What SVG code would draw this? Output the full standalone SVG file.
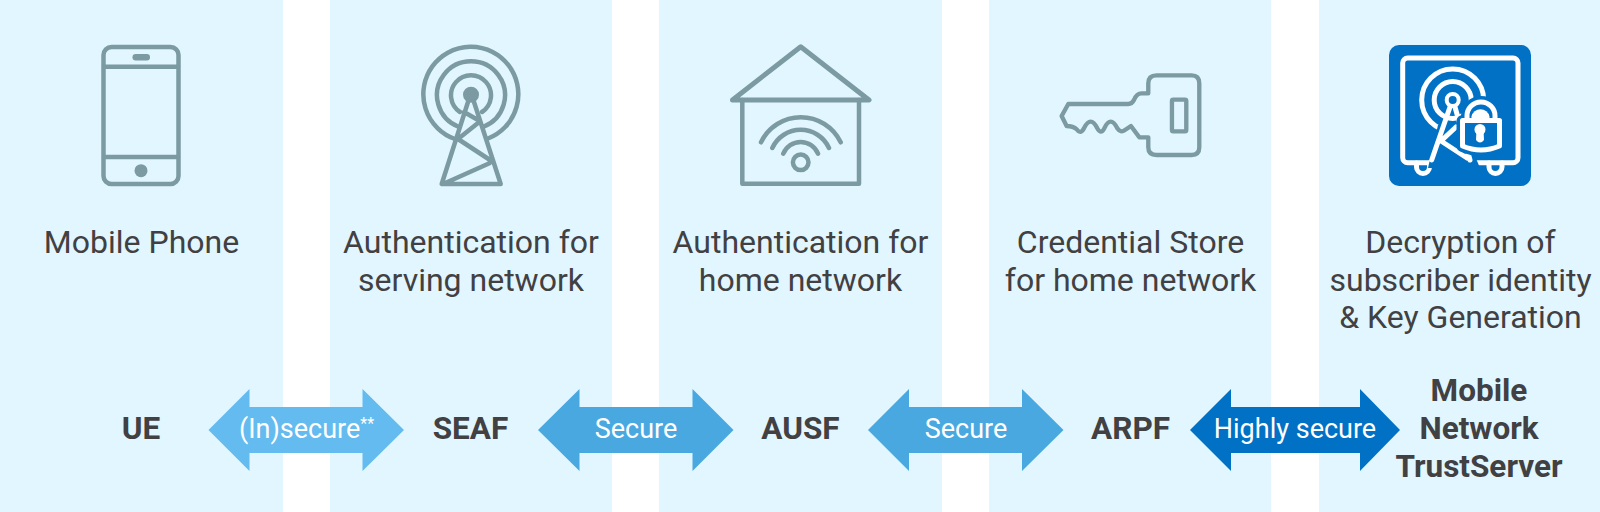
<svg xmlns="http://www.w3.org/2000/svg" width="1600" height="512" viewBox="0 0 1600 512">
<style>
.band{fill:#e1f6ff}
.ic{fill:none;stroke:#7b9aa2;stroke-width:4.500;stroke-linecap:round;stroke-linejoin:round}
.icf{fill:#7b9aa2}
.w{fill:none;stroke:#fff;stroke-width:5;stroke-linecap:round;stroke-linejoin:round}
text{font-family:Roboto,"Liberation Sans",sans-serif;text-anchor:middle}
.lab{font-size:32px;fill:#414042}
.nm{font-size:31.500px;font-weight:700;fill:#414042}
.ar{font-size:27px;fill:#fff}
.sup{font-size:16px}
</style>
<g id="bands">
<rect class="band" x="0" y="0" width="283" height="512"/>
<rect class="band" x="330" y="0" width="282" height="512"/>
<rect class="band" x="659" y="0" width="283" height="512"/>
<rect class="band" x="989" y="0" width="282" height="512"/>
<rect class="band" x="1319" y="0" width="281" height="512"/>
</g>
<g id="ue">
<rect class="ic" x="103.500" y="47" width="75" height="137" rx="8"/>
<path class="ic" d="M104 66.700H178M104 157H178"/>
<rect class="icf" x="132.500" y="54" width="17.500" height="6.500" rx="3.200"/>
<circle class="icf" cx="141" cy="170.700" r="6.500"/>
<text class="lab" x="141.500" y="252.500">Mobile Phone</text>
<text class="nm" x="141" y="439">UE</text>
</g>
<g id="seaf">
<path class="ic" d="M455 139A47.500 47.500 0 1 1 488 138.500M459 127A34 34 0 1 1 483 127M460 112A20 20 0 1 1 482 112"/>
<circle class="icf" cx="471" cy="94.700" r="8"/>
<path class="ic" d="M468 102L441.700 184H500.700L474 102M464 112L478 120M478 123L458 139L490 160M490 163L443 184"/>
<text class="lab" x="471" y="252.500">Authentication for</text>
<text class="lab" x="471" y="290.500">serving network</text>
<text class="nm" x="470.500" y="439">SEAF</text>
</g>
<g id="ausf">
<path class="ic" style="stroke-width:5" d="M732.500 100L800.700 46.700L869 100Z"/>
<path class="ic" d="M742.300 100V183.700H859V100"/>
<path class="ic" d="M761 142.300A44.200 44.200 0 0 1 840.700 142.300M772.300 148A31.200 31.200 0 0 1 829 148M783.300 153.700A18.700 18.700 0 0 1 818 153.700"/>
<circle class="ic" cx="800.700" cy="162.300" r="7.800"/>
<text class="lab" x="800.500" y="252.500">Authentication for</text>
<text class="lab" x="800.500" y="290.500">home network</text>
<text class="nm" x="800.500" y="439">AUSF</text>
</g>
<g id="arpf">
<path class="ic" transform="translate(700 20) scale(.3333)" style="stroke-width:13" d="M1105 252H1285Q1296 252 1302 240Q1310 220 1325 220H1345V190Q1345 166 1370 166H1475Q1498 166 1498 190V382Q1498 405 1475 405H1370Q1345 405 1345 382V352H1318L1293 318L1275 330Q1262 340 1252 325Q1232 285 1213 325Q1203 345 1192 325Q1172 285 1152 325Q1142 345 1130 328Q1120 318 1100 318L1085 288Z"/>
<rect class="ic" transform="translate(700 20) scale(.3333)" style="stroke-width:13" x="1416" y="239" width="43" height="95" rx="4"/>
<text class="lab" x="1130.500" y="252.500">Credential Store</text>
<text class="lab" x="1130.500" y="290.500">for home network</text>
<text class="nm" x="1130.500" y="439">ARPF</text>
</g>
<g id="trustserver">
<rect x="1389" y="45" width="142" height="141" rx="10" fill="#0071c5"/>
<rect class="w" x="1402.700" y="58" width="115.300" height="104.700" rx="5"/>
<path class="w" d="M1416.500 163V167A6.500 6.500 0 0 0 1429.500 167V163M1489 163V167A6.500 6.500 0 0 0 1502 167V163"/>
<circle class="w" cx="1452.700" cy="100" r="31"/>
<circle class="w" cx="1452.700" cy="100" r="18.500"/>
<path d="M1438 125L1428 168H1480L1462 125Z" fill="#0071c5"/>
<circle cx="1452.700" cy="100" r="6" fill="#0071c5" stroke="#fff" stroke-width="4"/>
<path class="w" d="M1450 107L1431.700 160M1455 107L1470 160M1456 127L1441 141L1467 158"/>
<path d="M1462.500 121H1499.500V146Q1481 154 1462.500 146ZM1467 121V116A14 14 0 0 1 1495 116V121Z" fill="#0071c5" stroke="#0071c5" stroke-width="12" stroke-linejoin="round"/>
<path class="w" d="M1467 120V116A14 14 0 0 1 1495 116V120M1462.500 120.500H1499.500V146Q1481 154 1462.500 146Z"/>
<path d="M1471.500 119V116.500A9.200 9.200 0 0 1 1489.500 116.500V119Z" fill="#fff"/>
<circle cx="1480" cy="129.500" r="5.500" fill="#fff"/>
<path d="M1476.500 130H1483.500L1484 140Q1480 145 1476 140Z" fill="#fff"/>
<text class="lab" x="1460.500" y="252.500">Decryption of</text>
<text class="lab" x="1460.500" y="290.500">subscriber identity</text>
<text class="lab" x="1460.500" y="328">&amp; Key Generation</text>
<text class="nm" x="1479" y="401">Mobile</text>
<text class="nm" x="1479" y="439">Network</text>
<text class="nm" x="1479" y="477">TrustServer</text>
</g>
<g id="connectors">
<path fill="#63bbef" d="M208.500 430L249.500 389V407H362.500V389L404 430L362.500 471V453H249.500V471Z"/>
<path fill="#4aa8e0" d="M538 430L579.500 389V407H692.500V389L733.500 430L692.500 471V453H579.500V471Z"/>
<path fill="#4aa8e0" d="M868 430L909 389V407H1022V389L1063.500 430L1022 471V453H909V471Z"/>
<path fill="#0071c5" d="M1190 430L1231 389V407H1360V389L1400 430L1360 471V453H1231V471Z"/>
<text class="ar" x="306.500" y="438">(In)secure<tspan class="sup" dy="-9">**</tspan></text>
<text class="ar" x="636" y="438">Secure</text>
<text class="ar" x="966" y="438">Secure</text>
<text class="ar" x="1295" y="438">Highly secure</text>
</g>
</svg>
